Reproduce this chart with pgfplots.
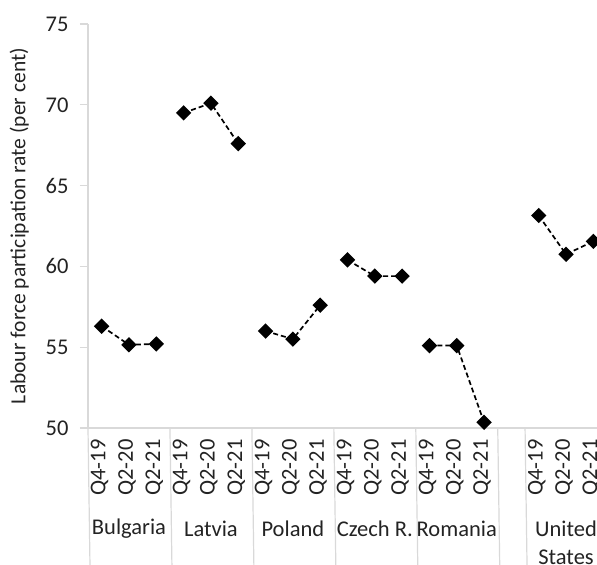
\documentclass[border=0pt]{standalone}
\usepackage{pgfplots}
\pgfplotsset{compat=1.18}
\usepackage{fontspec}
\setmainfont{Carlito}
\definecolor{gridgray}{RGB}{217,217,217}
\definecolor{txt}{RGB}{35,35,35}

\pgfplotsset{
  ser/.style={black, line width=1.7bp, dash pattern=on 5bp off 3bp,
    mark=square*, mark size=4.6bp, mark options={solid, rotate=45, fill=black}},
}

\begin{document}
\begin{tikzpicture}[font=\fontsize{22.5bp}{27bp}\selectfont]
\begin{axis}[
  scale only axis, width=519bp, height=404bp,
  xmin=-0.5, xmax=18.5, ymin=50, ymax=75,
  axis x line*=bottom, axis y line*=left,
  axis line style={gridgray, line width=1.2bp, -},
  xtick={0,1,2,3,4,5,6,7,8,9,10,11,12,13,14,16,17,18},
  xticklabels={Q4-19,Q2-20,Q2-21,Q4-19,Q2-20,Q2-21,Q4-19,Q2-20,Q2-21,
               Q4-19,Q2-20,Q2-21,Q4-19,Q2-20,Q2-21,Q4-19,Q2-20,Q2-21},
  xticklabel style={rotate=90, anchor=east, yshift=2bp},
  yticklabel style={xshift=-8bp},
  ytick={50,55,60,65,70,75},
  tick align=outside,
  major tick length=8bp,
  xtick style={draw=none},
  ytick style={gridgray, line width=1.2bp},
  /pgf/number format/assume math mode=true,
  ticklabel style={text=txt},
  ylabel={Labour force participation rate (per cent)},
  ylabel style={text=txt, font=\fontsize{21.5bp}{25bp}\selectfont},
  ylabel shift=10bp,
  clip=false,
]
% Bulgaria
\addplot[ser] coordinates {(0,56.3) (1,55.15) (2,55.2)};
% Latvia
\addplot[ser] coordinates {(3,69.5) (4,70.1) (5,67.6)};
% Poland
\addplot[ser] coordinates {(6,56.0) (7,55.5) (8,57.6)};
% Czech R.
\addplot[ser] coordinates {(9,60.4) (10,59.4) (11,59.4)};
% Romania
\addplot[ser] coordinates {(12,55.1) (13,55.1) (14,50.35)};
% United States
\addplot[ser] coordinates {(16,63.15) (17,60.75) (18,61.55)};

\foreach \s in {-0.5,2.5,5.5,8.5,11.5,14.5,15.5,18.5} {
  \edef\temp{\noexpand\draw[gridgray, line width=1.2bp] (axis cs:\s,50) -- ++(0,-137bp);}
  \temp
}
\node[text=txt] at ([yshift=-101bp]axis cs:1,50) {Bulgaria};
\node[text=txt] at ([yshift=-101bp]axis cs:4,50) {Latvia};
\node[text=txt] at ([yshift=-101bp]axis cs:7,50) {Poland};
\node[text=txt] at ([yshift=-101bp]axis cs:10,50) {Czech R.};
\node[text=txt] at ([yshift=-101bp]axis cs:13,50) {Romania};
\node[text=txt, align=center, font=\fontsize{22.5bp}{28bp}\selectfont] at ([yshift=-115bp]axis cs:17,50) {United\\States};
\end{axis}
\pgfresetboundingbox
\useasboundingbox (-88bp,-137bp) rectangle (509bp,428bp);
\end{tikzpicture}
\end{document}
